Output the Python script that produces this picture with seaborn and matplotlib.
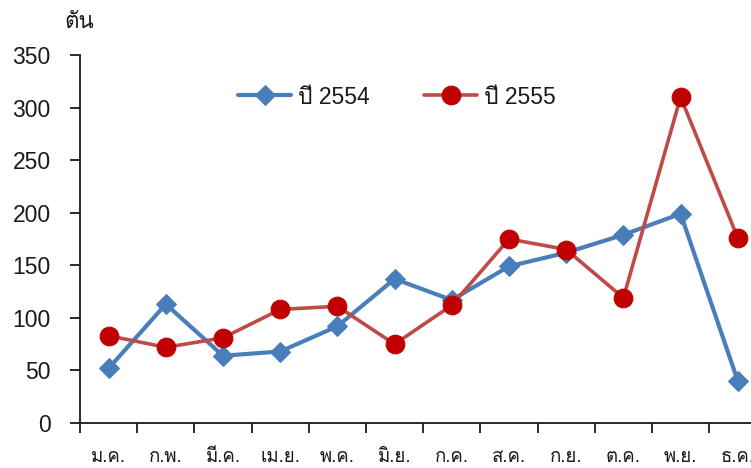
import matplotlib
matplotlib.use("Agg")
import matplotlib.pyplot as plt
from matplotlib import font_manager
from matplotlib.ticker import FixedLocator
import seaborn as sns
import pandas as pd

# Monthly tonnage, two years
months = ["ม.ค.", "ก.พ.", "มี.ค.", "เม.ย.", "พ.ค.", "มิ.ย.",
          "ก.ค.", "ส.ค.", "ก.ย.", "ต.ค.", "พ.ย.", "ธ.ค."]
years = ["ปี 2554", "ปี 2555"]
tons_2554 = [52, 113, 64, 68, 92, 137, 117, 149, 162, 179, 199, 40]
tons_2555 = [83, 72, 81, 108, 111, 75, 112, 175, 165, 119, 310, 176]
y_ticks = [0, 50, 100, 150, 200, 250, 300, 350]
unit_label = "ตัน"


def thai_family():
    """Find an installed family with Thai glyphs."""
    try:
        from fontTools.ttLib import TTFont
    except Exception:
        return None
    seen = set()
    for f in font_manager.fontManager.ttflist:
        if f.name in seen:
            continue
        seen.add(f.name)
        try:
            tt = TTFont(f.fname, fontNumber=0, lazy=True)
            cmap = tt.getBestCmap()
            if cmap and 0x0E1B in cmap and 0x0E15 in cmap:
                return f.name
        except Exception:
            continue
    return None


sns.set_theme(style="white")
fam = thai_family()
families = ["Liberation Sans", "DejaVu Sans"]
if fam:
    families = ["Liberation Sans", fam, "DejaVu Sans"]
plt.rcParams["font.family"] = families

TEXT = "#1a1a1a"
BLUE = "#4A7EBB"
RED_LINE = "#BE4B48"
RED_MARK = "#C00000"

df = pd.DataFrame({
    "month": months * 2,
    "tons": tons_2554 + tons_2555,
    "year": [years[0]] * len(months) + [years[1]] * len(months),
})

fig = plt.figure(figsize=(7.51, 4.68), dpi=100)
ax = fig.add_axes([80 / 751, 45 / 468, 686.4 / 751, 368 / 468])

palette = {years[0]: BLUE, years[1]: RED_LINE}
sns.lineplot(data=df, x="month", y="tons", hue="year", style="year",
             palette=palette, markers={years[0]: "D", years[1]: "o"},
             dashes=False, sort=False, ax=ax, legend=False)

lines = ax.get_lines()
lines[0].set_linewidth(3.0)
lines[0].set_markersize(10)
lines[0].set_markerfacecolor(BLUE)
lines[0].set_markeredgecolor(BLUE)
lines[1].set_linewidth(2.6)
lines[1].set_markersize(13.5)
lines[1].set_markerfacecolor(RED_MARK)
lines[1].set_markeredgecolor(RED_MARK)
for ln in lines:
    ln.set_solid_joinstyle("round")

ax.set_xlim(-0.5, len(months) - 0.5)
ax.set_ylim(0, 350)
ax.set_yticks(y_ticks)
ax.set_yticklabels([str(v) for v in y_ticks], fontsize=16.5, color=TEXT)
ax.set_xticks(range(len(months)))
ax.set_xticklabels(months, fontsize=13.4, color=TEXT)
ax.xaxis.set_minor_locator(FixedLocator([i - 0.5 for i in range(len(months) + 1)]))
ax.tick_params(axis="x", which="major", length=0, pad=19)
ax.tick_params(axis="x", which="minor", length=7, width=1.3, color=TEXT,
               direction="out", bottom=True)
ax.tick_params(axis="y", which="major", length=7, width=1.3, color=TEXT,
               direction="out", left=True, pad=14)
ax.set_xlabel("")
ax.set_ylabel("")

for side in ["top", "right"]:
    ax.spines[side].set_visible(False)
for side in ["left", "bottom"]:
    ax.spines[side].set_color(TEXT)
    ax.spines[side].set_linewidth(1.3)

handles = [lines[0], lines[1]]
ax.legend(handles, years, loc="center", bbox_to_anchor=(397 / 751, 1 - 97 / 468),
          bbox_transform=fig.transFigure, ncol=2, frameon=False,
          fontsize=16.5, handlelength=2.3, columnspacing=2.4, handletextpad=0.3,
          labelcolor=TEXT)

fig.text(64 / 751, 1 - 22 / 468, unit_label, fontsize=16, color=TEXT,
         va="center", ha="left")

fig.savefig("out.png", dpi=100)
